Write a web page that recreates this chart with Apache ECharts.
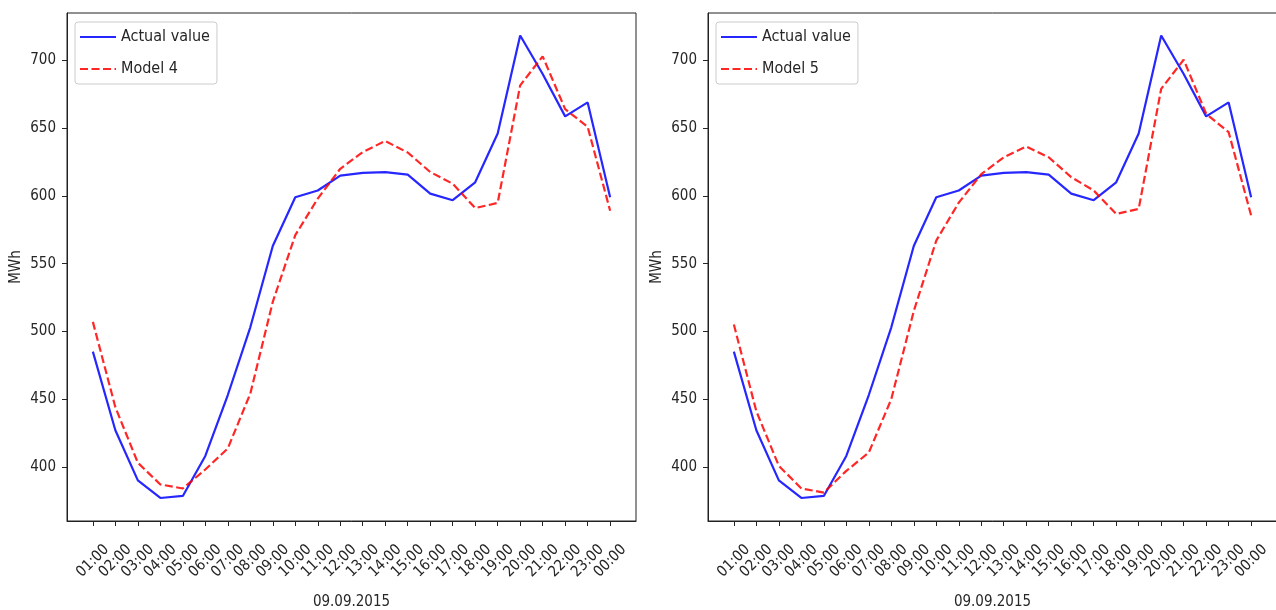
<!DOCTYPE html>
<html>
<head>
<meta charset="utf-8">
<script src="https://cdn.jsdelivr.net/npm/echarts@6/dist/echarts.min.js"></script>
<style>
html,body{margin:0;padding:0;background:#fff;}
#main{width:1276px;height:610px;}
</style>
</head>
<body>
<div id="main"></div>
<script>
// ---- data ----
const hours = ['01:00','02:00','03:00','04:00','05:00','06:00','07:00','08:00','09:00','10:00','11:00','12:00',
               '13:00','14:00','15:00','16:00','17:00','18:00','19:00','20:00','21:00','22:00','23:00','00:00'];
const actual = [485, 427, 390, 377, 378.5, 408, 453, 503, 563, 599, 604, 615,
                617, 617.6, 615.7, 601.7, 596.8, 610, 646, 718.4, 690, 658.7, 669, 599];
const model4 = [507, 444, 403, 387, 384, 398, 413.6, 454, 521.8, 571, 598, 620,
                632.4, 640.5, 632, 617.6, 609, 591, 594.8, 681.6, 703, 664, 651, 589];
const model5 = [505, 441, 400.7, 384, 381, 397, 410.5, 450, 515, 567, 595, 616,
                628.5, 636.4, 628.5, 613.8, 604, 586.7, 590.4, 679, 700.5, 660.6, 647, 585.5];
const yTicks = [400, 450, 500, 550, 600, 650, 700];
const xLabel = '09.09.2015';
const yLabel = 'MWh';

// ---- chart ----
const FONT = "'DejaVu Sans Condensed', 'DejaVu Sans', sans-serif";
const TXT = '#262626';
const idx = hours.map((h, i) => i);
const pairs = arr => arr.map((v, i) => [i, v]);

function xAxisFor(gi) {
  return {
    type: 'value', gridIndex: gi, min: -1.15, max: hours.length - 1 + 1.15,
    name: xLabel, nameLocation: 'middle', nameGap: 74,
    nameTextStyle: {fontFamily: FONT, fontSize: 15, color: TXT},
    axisLine: {show: true, onZero: false, lineStyle: {color: '#222', width: 1}},
    splitLine: {show: false},
    axisTick: {show: true, customValues: idx, length: 5, lineStyle: {color: TXT, width: 1}},
    axisLabel: {
      customValues: idx, rotate: 45, align: 'center', verticalAlign: 'middle', margin: 40,
      fontFamily: FONT, fontSize: 15, color: TXT,
      formatter: v => hours[Math.round(v)]
    }
  };
}
function yAxisFor(gi) {
  return {
    type: 'value', gridIndex: gi, min: 360, max: 735,
    name: yLabel, nameLocation: 'middle', nameGap: 43, nameRotate: 90,
    nameTextStyle: {fontFamily: FONT, fontSize: 15, color: TXT},
    axisLine: {show: true, onZero: false, lineStyle: {color: '#222', width: 1}},
    splitLine: {show: false},
    axisTick: {show: true, customValues: yTicks, length: 5, lineStyle: {color: TXT, width: 1}},
    axisLabel: {customValues: yTicks, margin: 11, fontFamily: FONT, fontSize: 15, color: TXT}
  };
}
function legendFor(left, names) {
  return {
    orient: 'vertical', left: left, top: 22, data: names,
    itemWidth: 36, itemHeight: 14, itemGap: 16,
    itemStyle: {opacity: 0, color: 'transparent', borderWidth: 0},
    padding: [7, 7, 7, 4],
    backgroundColor: 'rgba(255,255,255,0.8)', borderColor: '#cccccc', borderWidth: 1, borderRadius: 3,
    textStyle: {fontFamily: FONT, fontSize: 16, color: TXT},
    selectedMode: false
  };
}
const blue = 'rgba(0,0,255,0.85)';
const red = 'rgba(255,0,0,0.85)';
function lineSeries(name, data, xi, color, dashed) {
  return {
    type: 'line', name: name, xAxisIndex: xi, yAxisIndex: xi, data: pairs(data),
    symbol: 'none', showSymbol: false, animation: false,
    lineStyle: {color: color, width: 2.2, type: dashed ? [8, 3.5] : 'solid'},
    itemStyle: {color: color}
  };
}

const chart = echarts.init(document.getElementById('main'));
chart.setOption({
  backgroundColor: '#ffffff',
  animation: false,
  grid: [
    {left: 67, top: 13, width: 569, height: 508, outerBoundsMode: 'none', containLabel: false,
     show: true, borderColor: '#222', borderWidth: 1, backgroundColor: 'transparent'},
    {left: 708, top: 13, width: 569, height: 508, outerBoundsMode: 'none', containLabel: false,
     show: true, borderColor: '#222', borderWidth: 1, backgroundColor: 'transparent'}
  ],
  legend: [legendFor(75, ['Actual value', 'Model 4']), legendFor(716, ['Actual value', 'Model 5'])],
  xAxis: [xAxisFor(0), xAxisFor(1)],
  yAxis: [yAxisFor(0), yAxisFor(1)],
  series: [
    lineSeries('Actual value', actual, 0, blue, false),
    lineSeries('Model 4', model4, 0, red, true),
    lineSeries('Actual value', actual, 1, blue, false),
    lineSeries('Model 5', model5, 1, red, true)
  ]
});
</script>
</body>
</html>
